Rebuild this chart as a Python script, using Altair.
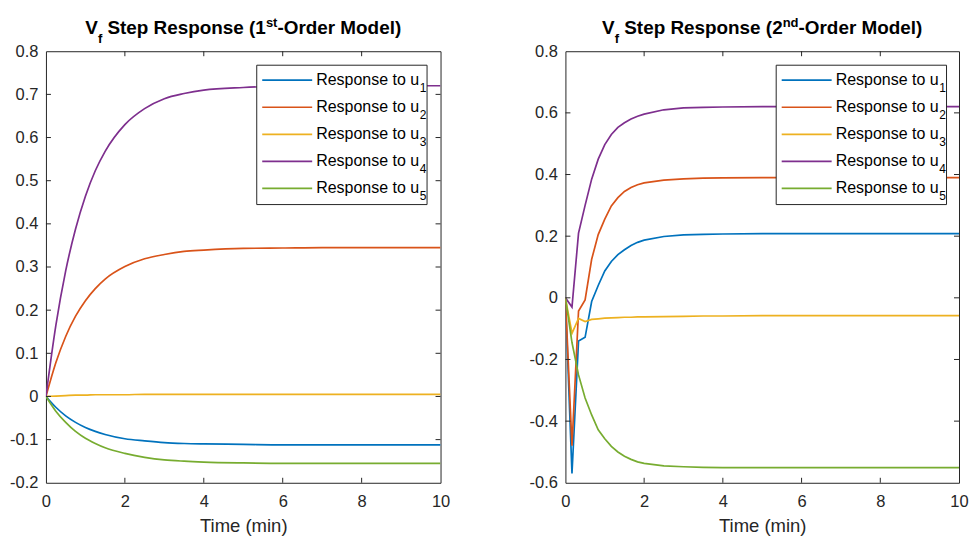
import altair as alt
import pandas as pd

# ---------------- data ----------------
series_names = ["u1", "u2", "u3", "u4", "u5"]
legend_text = "Response to u"
legend_subs = ["1", "2", "3", "4", "5"]
colors = ["#0072BD", "#D95319", "#EDB120", "#7E2F8E", "#77AC30"]

# 1st-order model (time in min)
t_first = [0, 0.25, 0.5, 0.75, 1, 1.25, 1.5, 2, 2.5, 3, 3.5, 4, 5, 6, 7, 8, 9, 10]
first_u1 = [0, -0.025, -0.045, -0.060, -0.072, -0.081, -0.088, -0.098, -0.103, -0.107, -0.109, -0.110, -0.111, -0.112, -0.112, -0.112, -0.112, -0.112]
first_u2 = [0, 0.078, 0.139, 0.186, 0.222, 0.250, 0.272, 0.301, 0.319, 0.329, 0.336, 0.339, 0.343, 0.344, 0.345, 0.345, 0.345, 0.345]
first_u3 = [0, 0.001, 0.002, 0.003, 0.003, 0.004, 0.004, 0.004, 0.005, 0.005, 0.005, 0.005, 0.005, 0.005, 0.005, 0.005, 0.005, 0.005]
first_u4 = [0, 0.164, 0.291, 0.388, 0.464, 0.523, 0.568, 0.630, 0.667, 0.690, 0.702, 0.710, 0.716, 0.719, 0.720, 0.720, 0.720, 0.720]
first_u5 = [0, -0.034, -0.060, -0.081, -0.097, -0.109, -0.119, -0.132, -0.141, -0.147, -0.150, -0.152, -0.154, -0.155, -0.155, -0.155, -0.155, -0.155]

# 2nd-order model (time in min)
t_second = [0, 0.1667, 0.3333, 0.5, 0.6667, 0.8333, 1, 1.1667, 1.3333, 1.5, 1.6667, 1.8333, 2, 2.5, 3, 3.5, 4, 5, 6, 7, 8, 9, 10]
second_u1 = [0, -0.570, -0.140, -0.128, -0.012, 0.040, 0.087, 0.118, 0.140, 0.156, 0.170, 0.180, 0.187, 0.199, 0.204, 0.206, 0.207, 0.208, 0.208, 0.208, 0.208, 0.208, 0.208]
second_u2 = [0, -0.480, -0.043, -0.007, 0.125, 0.205, 0.255, 0.298, 0.325, 0.345, 0.358, 0.367, 0.373, 0.382, 0.386, 0.388, 0.389, 0.390, 0.390, 0.390, 0.390, 0.390, 0.390]
second_u3 = [0, -0.115, -0.067, -0.077, -0.070, -0.068, -0.066, -0.065, -0.064, -0.063, -0.063, -0.062, -0.062, -0.061, -0.060, -0.059, -0.059, -0.058, -0.058, -0.058, -0.058, -0.058, -0.058]
second_u4 = [0, -0.030, 0.210, 0.300, 0.385, 0.450, 0.497, 0.530, 0.553, 0.568, 0.580, 0.589, 0.596, 0.610, 0.616, 0.618, 0.619, 0.620, 0.620, 0.620, 0.620, 0.620, 0.620]
second_u5 = [0, -0.145, -0.250, -0.325, -0.380, -0.428, -0.457, -0.482, -0.500, -0.514, -0.524, -0.532, -0.537, -0.545, -0.548, -0.550, -0.551, -0.551, -0.551, -0.551, -0.551, -0.551, -0.551]

x_ticks = [0, 2, 4, 6, 8, 10]
y_ticks_first = [-0.2, -0.1, 0, 0.1, 0.2, 0.3, 0.4, 0.5, 0.6, 0.7, 0.8]
y_ticks_second = [-0.6, -0.4, -0.2, 0, 0.2, 0.4, 0.6, 0.8]
x_title = "Time (min)"

# ---------------- styling ----------------
FONT = "Liberation Sans"
AX = "#262626"
H = 432
TICK_FS = 16.5
TITLE_FS = 18.9
AXTITLE_FS = 18.5
SMALL_FS = 13
LEG_FS = 16
LEG_SUB_FS = 12

ARIAL_BOLD = {'V': 667, 'f': 333, ' ': 278, 'S': 667, 't': 333, 'e': 556, 'p': 611, 'R': 722,
              's': 556, 'o': 611, 'n': 611, '(': 333, ')': 333, '1': 556, '2': 556, '-': 333,
              'O': 778, 'r': 389, 'd': 611, 'M': 833, 'l': 278}
ARIAL = {'R': 722, 'e': 556, 's': 500, 'p': 556, 'o': 556, 'n': 556, ' ': 278, 't': 278, 'u': 556}


def text_w(s, size, table):
    return sum(table.get(c, 556) for c in s) * size / 1000.0


def long_df(t, cols):
    rows = []
    for name, vals in zip(series_names, cols):
        for tt, vv in zip(t, vals):
            rows.append({"t": tt, "v": vv, "s": name})
    return pd.DataFrame(rows)


one = pd.DataFrame({"d": [0]})


def txt(s, x, y, size, weight="normal", color="#000000", align="left"):
    return alt.Chart(one).mark_text(text=s, font=FONT, fontSize=size, fontWeight=weight,
                                    color=color, align=align, baseline="alphabetic").encode(
        x=alt.value(x), y=alt.value(y))


def panel(t, cols, y_dom, y_ticks, interp, num, sup, W, spacer=False):
    df = long_df(t, cols)
    xs = alt.Scale(domain=[0, 10], nice=False, zero=False)
    ys = alt.Scale(domain=y_dom, nice=False, zero=False)
    x_axis = alt.Axis(values=x_ticks, title=x_title, grid=False, ticks=False,
                      tickSize=0, domain=False, labelPadding=11, titlePadding=6,
                      labelFlush=False, labelOverlap=False,
                      labelExpr="toString(datum.value)")
    y_axis = alt.Axis(values=y_ticks, title=None, grid=False, ticks=False,
                      tickSize=0, domain=False, labelPadding=8,
                      labelFlush=False, labelOverlap=False,
                      labelExpr="toString(datum.value)")
    lines = alt.Chart(df).mark_line(strokeWidth=1.7, interpolate=interp, clip=True).encode(
        x=alt.X("t:Q", scale=xs, axis=x_axis),
        y=alt.Y("v:Q", scale=ys, axis=y_axis),
        color=alt.Color("s:N", scale=alt.Scale(domain=series_names, range=colors), legend=None),
    )
    xt = pd.DataFrame({"t": x_ticks[1:-1]})
    yt = pd.DataFrame({"v": y_ticks[1:-1]})
    tb = alt.Chart(xt).mark_rule(color=AX, strokeWidth=1).encode(
        x=alt.X("t:Q", scale=xs, axis=x_axis), y=alt.value(H), y2=alt.value(H - 5))
    tt = alt.Chart(xt).mark_rule(color=AX, strokeWidth=1).encode(
        x=alt.X("t:Q", scale=xs, axis=x_axis), y=alt.value(0), y2=alt.value(5))
    tl = alt.Chart(yt).mark_rule(color=AX, strokeWidth=1).encode(
        y=alt.Y("v:Q", scale=ys, axis=y_axis), x=alt.value(0), x2=alt.value(5))
    tr = alt.Chart(yt).mark_rule(color=AX, strokeWidth=1).encode(
        y=alt.Y("v:Q", scale=ys, axis=y_axis), x=alt.value(W), x2=alt.value(W - 5))

    layers = [lines, tb, tt, tl, tr]

    # legend
    box = alt.Chart(one).mark_rect(fill="white", stroke=AX, strokeWidth=1).encode(
        x=alt.value(211), x2=alt.value(381.5), y=alt.value(14), y2=alt.value(153.5))
    layers.append(box)
    tx = 270.5
    for i in range(5):
        ly = 29 + 27.07 * i
        layers.append(alt.Chart(one).mark_rule(color=colors[i], strokeWidth=1.7).encode(
            x=alt.value(216.5), x2=alt.value(266.5), y=alt.value(ly)))
        layers.append(txt(legend_text, tx, ly + 5, LEG_FS))
        layers.append(txt(legend_subs[i], tx + text_w(legend_text, LEG_FS, ARIAL) + 0.5, ly + 11.5, LEG_SUB_FS))

    # title (pieces placed side by side; spaces handled as offsets)
    base = -17
    pieces = [("V", TITLE_FS, base, 0), ("f", SMALL_FS, base + 8.5, 0),
              ("Step Response (" + num, TITLE_FS, base, text_w(" ", TITLE_FS, ARIAL_BOLD)),
              (sup, SMALL_FS, base - 7.5, 0),
              ("-Order Model)", TITLE_FS, base, 0)]
    total = sum(text_w(p[0], p[1], ARIAL_BOLD) + p[3] for p in pieces)
    x0 = W / 2.0 - total / 2.0
    for s, fs, yy, gap in pieces:
        x0 += gap
        layers.append(txt(s, x0, yy, fs, weight="bold"))
        x0 += text_w(s, fs, ARIAL_BOLD)

    if spacer:
        layers.append(alt.Chart(one).mark_rect(opacity=0).encode(
            x=alt.value(-45), x2=alt.value(-44), y=alt.value(-50), y2=alt.value(-49)))

    return alt.layer(*layers).properties(width=W, height=H)


left = panel(t_first, [first_u1, first_u2, first_u3, first_u4, first_u5],
             [-0.2, 0.8], y_ticks_first, "monotone", "1", "st", 395, spacer=True)
right = panel(t_second, [second_u1, second_u2, second_u3, second_u4, second_u5],
              [-0.6, 0.8], y_ticks_second, "linear", "2", "nd", 394)

chart = alt.hconcat(left, right, spacing=125, bounds="flush").properties(
    padding=0, background="white"
).configure_view(stroke=AX, strokeWidth=1).configure_axis(
    labelFont=FONT, labelFontSize=TICK_FS, labelColor=AX,
    titleFont=FONT, titleFontSize=AXTITLE_FS, titleColor=AX, titleFontWeight="normal"
)

chart.save("out.html", embed_options={"renderer": "svg", "actions": False})
